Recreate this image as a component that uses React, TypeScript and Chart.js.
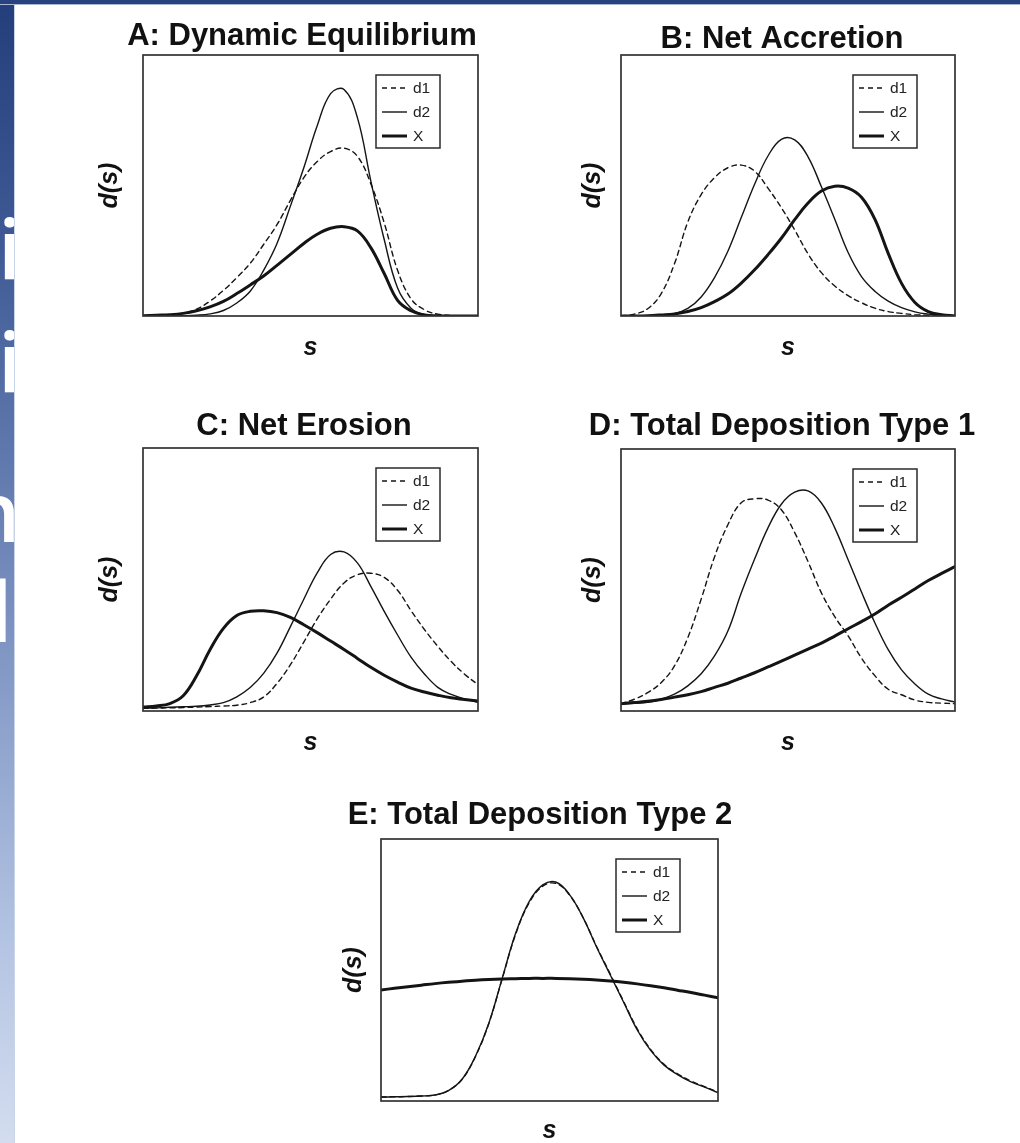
import React, { useEffect, useRef } from "react";
import { Chart, registerables } from "chart.js";

Chart.register(...registerables);

// Position along the transect (s), shared by every panel
const sGrid = [0, 0.04, 0.08, 0.12, 0.16, 0.2, 0.24, 0.28, 0.32, 0.36, 0.4, 0.44, 0.48, 0.52, 0.56, 0.6, 0.64, 0.68, 0.72, 0.76, 0.8, 0.84, 0.88, 0.92, 0.96, 1];

const seriesNames = ["d1", "d2", "X"];
const panelTitles = [
  "A: Dynamic Equilibrium",
  "B: Net Accretion",
  "C: Net Erosion",
  "D: Total Deposition Type 1",
  "E: Total Deposition Type 2",
];
const xAxisLabel = "s";
const yAxisLabel = "d(s)";

// A: Dynamic Equilibrium
const aD1 = [0, 0.001, 0.004, 0.011, 0.026, 0.057, 0.098, 0.147, 0.202, 0.274, 0.35, 0.443, 0.53, 0.592, 0.63, 0.643, 0.612, 0.507, 0.357, 0.175, 0.066, 0.024, 0.007, 0.002, 0, 0];
const aD2 = [0, 0, 0, 0.001, 0.003, 0.008, 0.021, 0.05, 0.095, 0.175, 0.278, 0.421, 0.568, 0.729, 0.852, 0.868, 0.76, 0.518, 0.293, 0.107, 0.03, 0.006, 0.001, 0, 0, 0];
const aX = [0.001, 0.003, 0.005, 0.01, 0.02, 0.035, 0.056, 0.086, 0.119, 0.153, 0.194, 0.236, 0.278, 0.313, 0.336, 0.342, 0.326, 0.262, 0.163, 0.06, 0.02, 0.004, 0.001, 0, 0, 0];

// B: Net Accretion
const bD1 = [0, 0.007, 0.028, 0.085, 0.2, 0.36, 0.465, 0.53, 0.568, 0.578, 0.555, 0.49, 0.415, 0.33, 0.238, 0.166, 0.115, 0.078, 0.051, 0.03, 0.017, 0.01, 0.005, 0.002, 0, 0];
const bD2 = [0, 0, 0.001, 0.004, 0.009, 0.029, 0.073, 0.147, 0.248, 0.377, 0.505, 0.613, 0.677, 0.675, 0.61, 0.495, 0.371, 0.243, 0.151, 0.095, 0.057, 0.032, 0.016, 0.007, 0.002, 0];
const bX = [0, 0, 0.001, 0.004, 0.008, 0.017, 0.032, 0.055, 0.084, 0.126, 0.177, 0.235, 0.298, 0.369, 0.433, 0.479, 0.497, 0.49, 0.455, 0.371, 0.24, 0.125, 0.052, 0.017, 0.005, 0.001];

// C: Net Erosion
const cD1 = [0.01, 0.011, 0.012, 0.013, 0.015, 0.017, 0.019, 0.022, 0.032, 0.053, 0.105, 0.176, 0.262, 0.35, 0.425, 0.487, 0.518, 0.524, 0.508, 0.459, 0.382, 0.31, 0.246, 0.188, 0.14, 0.1];
const cD2 = [0.01, 0.012, 0.014, 0.016, 0.018, 0.023, 0.032, 0.054, 0.089, 0.143, 0.22, 0.321, 0.425, 0.525, 0.595, 0.605, 0.563, 0.474, 0.379, 0.289, 0.205, 0.141, 0.09, 0.063, 0.046, 0.033];
const cX = [0.015, 0.019, 0.028, 0.058, 0.134, 0.233, 0.314, 0.363, 0.379, 0.381, 0.374, 0.356, 0.328, 0.298, 0.266, 0.234, 0.2, 0.166, 0.136, 0.11, 0.087, 0.072, 0.06, 0.05, 0.044, 0.038];

// D: Total Deposition Type 1
const dD1 = [0.028, 0.045, 0.07, 0.108, 0.172, 0.28, 0.427, 0.588, 0.711, 0.795, 0.81, 0.805, 0.768, 0.681, 0.57, 0.451, 0.36, 0.287, 0.202, 0.135, 0.083, 0.062, 0.042, 0.033, 0.03, 0.028];
const dD2 = [0.026, 0.029, 0.033, 0.045, 0.064, 0.096, 0.142, 0.21, 0.305, 0.45, 0.58, 0.699, 0.789, 0.835, 0.84, 0.794, 0.699, 0.577, 0.454, 0.337, 0.234, 0.157, 0.103, 0.064, 0.046, 0.034];
const dX = [0.028, 0.032, 0.037, 0.044, 0.053, 0.062, 0.074, 0.09, 0.106, 0.126, 0.146, 0.168, 0.19, 0.213, 0.236, 0.259, 0.286, 0.314, 0.341, 0.37, 0.404, 0.434, 0.466, 0.498, 0.525, 0.551];

// E: Total Deposition Type 2
const eD1 = [0.015, 0.016, 0.017, 0.019, 0.023, 0.04, 0.082, 0.169, 0.296, 0.468, 0.638, 0.757, 0.82, 0.83, 0.785, 0.699, 0.589, 0.485, 0.38, 0.276, 0.197, 0.14, 0.104, 0.076, 0.055, 0.034];
const eD2 = [0.015, 0.016, 0.017, 0.019, 0.023, 0.04, 0.082, 0.17, 0.297, 0.47, 0.642, 0.762, 0.825, 0.835, 0.787, 0.699, 0.587, 0.482, 0.377, 0.272, 0.193, 0.137, 0.101, 0.073, 0.053, 0.032];
const eX = [0.424, 0.43, 0.436, 0.442, 0.448, 0.453, 0.457, 0.461, 0.464, 0.466, 0.467, 0.468, 0.468, 0.468, 0.467, 0.465, 0.462, 0.458, 0.453, 0.447, 0.44, 0.432, 0.423, 0.414, 0.404, 0.394];

const panelSeries = [
  [aD1, aD2, aX],
  [bD1, bD2, bX],
  [cD1, cD2, cX],
  [dD1, dD2, dX],
  [eD1, eD2, eX],
];

// Page placement of each panel (plot box and its labels), in page pixels
const panelLayout = [
  { left: 143, right: 478, top: 55, bottom: 316, titleX: 302, titleBase: 44.5, yLabelBase: 117, sBase: 355 },
  { left: 621, right: 955, top: 55, bottom: 316, titleX: 782, titleBase: 47.5, yLabelBase: 600, sBase: 355 },
  { left: 143, right: 478, top: 448, bottom: 711, titleX: 304, titleBase: 435, yLabelBase: 117, sBase: 750 },
  { left: 621, right: 955, top: 449, bottom: 711, titleX: 782, titleBase: 435, yLabelBase: 600, sBase: 750 },
  { left: 381, right: 718, top: 839, bottom: 1101, titleX: 540, titleBase: 823.5, yLabelBase: 361, sBase: 1138 },
];

const PAD = { left: 60, right: 40, top: 56, bottom: 50 };
const FONT = '"Liberation Sans", Arial, Helvetica, sans-serif';
const INK = "#141414";

const lineStyles = [
  { width: 1.4, dash: [5, 4] },
  { width: 1.4, dash: [] as number[] },
  { width: 3.0, dash: [] as number[] },
];

// Frame, legend, title and axis labels of one panel
const panelDecor = {
  id: "panelDecor",
  afterDatasetsDraw(chart: any, _args: any, opts: any) {
    const { ctx, chartArea: a } = chart;
    const L = opts.layout;
    const ox = L.left - PAD.left;
    const oy = L.top - PAD.top;
    ctx.save();

    // legend box, top right inside the plot
    const lw = 64;
    const lh = 73;
    const lx = a.right - 38 - lw;
    const ly = a.top + 20;
    ctx.fillStyle = "#fff";
    ctx.fillRect(lx, ly, lw, lh);
    ctx.strokeStyle = "#2a2a2a";
    ctx.lineWidth = 1.5;
    ctx.strokeRect(lx, ly, lw, lh);
    const rows = [13, 37, 61];
    chart.data.datasets.forEach((ds: any, i: number) => {
      const y = ly + rows[i];
      ctx.beginPath();
      ctx.setLineDash(ds.borderDash || []);
      ctx.lineWidth = ds.borderWidth;
      ctx.strokeStyle = ds.borderColor;
      ctx.moveTo(lx + 6, y);
      ctx.lineTo(lx + 31, y);
      ctx.stroke();
      ctx.setLineDash([]);
      ctx.fillStyle = "#222";
      ctx.font = `15.5px ${FONT}`;
      ctx.textAlign = "left";
      ctx.textBaseline = "middle";
      ctx.fillText(ds.label, lx + 37, y + 0.5);
    });

    // plot frame
    ctx.setLineDash([]);
    ctx.strokeStyle = "#333";
    ctx.lineWidth = 1.7;
    ctx.strokeRect(a.left, a.top, a.right - a.left, a.bottom - a.top);

    // title
    ctx.fillStyle = "#111";
    ctx.textBaseline = "alphabetic";
    ctx.textAlign = "center";
    ctx.font = `bold 31px ${FONT}`;
    ctx.fillText(opts.title, L.titleX - ox, L.titleBase - oy);

    // axis labels
    ctx.font = `italic bold 25px ${FONT}`;
    ctx.fillText(opts.xLabel, (a.left + a.right) / 2, L.sBase - oy);
    ctx.translate(L.yLabelBase - ox, (a.top + a.bottom) / 2);
    ctx.rotate(-Math.PI / 2);
    ctx.fillText(opts.yLabel, 0, 0);
    ctx.restore();
  },
};

function Panel({ index }: { index: number }) {
  const ref = useRef<HTMLCanvasElement | null>(null);
  const L = panelLayout[index];
  const width = L.right - L.left + PAD.left + PAD.right;
  const height = L.bottom - L.top + PAD.top + PAD.bottom;

  useEffect(() => {
    if (!ref.current) return;
    const datasets = panelSeries[index].map((values, i) => ({
      label: seriesNames[i],
      data: values.map((v, k) => ({ x: sGrid[k], y: v })),
      borderColor: INK,
      borderWidth: lineStyles[i].width,
      borderDash: lineStyles[i].dash,
      borderCapStyle: "round" as const,
      pointRadius: 0,
      tension: 0.4,
      fill: false,
    }));
    const chart = new Chart(ref.current, {
      type: "line",
      data: { datasets },
      options: {
        animation: false,
        responsive: false,
        maintainAspectRatio: false,
        events: [],
        layout: { padding: PAD },
        scales: {
          x: { type: "linear", min: 0, max: 1, display: false },
          y: { type: "linear", min: 0, max: 1, display: false },
        },
        plugins: {
          legend: { display: false },
          tooltip: { enabled: false },
          title: { display: false },
          panelDecor: { layout: L, title: panelTitles[index], xLabel: xAxisLabel, yLabel: yAxisLabel },
        } as any,
      },
      plugins: [panelDecor],
    });
    return () => chart.destroy();
  }, [index]);

  return (
    <canvas
      ref={ref}
      width={width}
      height={height}
      style={{ position: "absolute", left: L.left - PAD.left, top: L.top - PAD.top, width, height }}
    />
  );
}

// Letters of the slide text running off the left edge
const stripLetters = [
  { ch: "i", left: -2, base: 283 },
  { ch: "i", left: -2, base: 396 },
  { ch: "n", left: -33, base: 545 },
  { ch: "l", left: -11, base: 645 },
];

export default function App() {
  return (
    <div style={{ position: "absolute", left: 0, top: 0, width: 1020, height: 1143, background: "#fff", overflow: "hidden" }}>
      <div
        style={{
          position: "absolute",
          left: 0,
          top: 0,
          width: 14,
          height: 1143,
          overflow: "hidden",
          background: "linear-gradient(to bottom, #233e7b 0%, #3d5893 20%, #5f78ad 40%, #8a9fca 62%, #b3c3e2 82%, #d3ddef 100%)",
        }}
      >
        {stripLetters.map((t, i) => (
          <span
            key={i}
            style={{
              position: "absolute",
              left: t.left,
              top: t.base - 88,
              fontFamily: '"Open Sans", sans-serif',
              fontWeight: 600,
              fontSize: 84,
              lineHeight: "105px",
              color: "#fff",
              whiteSpace: "pre",
            }}
          >
            {t.ch}
          </span>
        ))}
      </div>
      <div style={{ position: "absolute", left: 14, top: 0, width: 1, height: 1143, background: "#c9d3e7" }} />
      <div style={{ position: "absolute", left: 0, top: 0, width: 1020, height: 4, background: "#27427f" }} />
      <div style={{ position: "absolute", left: 0, top: 4, width: 1020, height: 1, background: "#a9b7d4" }} />
      {panelLayout.map((_, i) => (
        <Panel key={i} index={i} />
      ))}
    </div>
  );
}
